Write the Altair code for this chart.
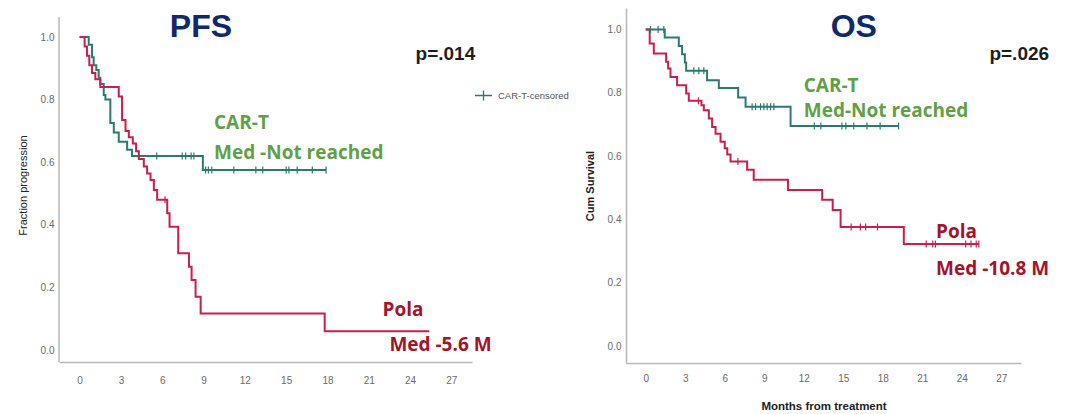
import altair as alt
import pandas as pd

TEAL = "#2b7a6f"
RED = "#c81f4f"
GREEN_TXT = "#62a047"
RED_TXT = "#a3132c"
NAVY = "#10296a"

# ---------------- PFS (left) ----------------
pfs_cart_t = [0, 0.66, 0.9, 1.02, 1.21, 1.38, 1.5, 1.75, 1.87, 2.23, 2.48, 2.84, 3.45, 3.8, 8.95, 17.9]
pfs_cart_s = [1.0, 0.975, 0.935, 0.91, 0.895, 0.87, 0.85, 0.815, 0.80, 0.725, 0.695, 0.665, 0.64, 0.62, 0.575, 0.575]
pfs_pola_t = [0, 0.36, 0.53, 0.7, 0.9, 1.14, 1.5, 2.84, 3.08, 3.33, 3.57, 3.86, 4.1, 4.3, 4.66, 4.9,
              5.15, 5.39, 5.63, 6.36, 6.53, 7.16, 7.94, 8.13, 8.42, 8.79, 17.8, 25.4]
pfs_pola_s = [1.0, 0.97, 0.94, 0.91, 0.885, 0.865, 0.84, 0.81, 0.735, 0.70, 0.68, 0.66, 0.635, 0.61, 0.586, 0.564,
              0.543, 0.511, 0.48, 0.437, 0.394, 0.309, 0.266, 0.224, 0.17, 0.117, 0.06, 0.06]
pfs_cart_cens_t = [5.6, 7.45, 7.7, 8.1, 8.3, 9.15, 9.35, 9.6, 11.2, 12.8, 13.3, 15.0, 15.2, 15.8, 16.9, 17.9]
pfs_cart_cens_s = [0.62, 0.62, 0.62, 0.62, 0.62, 0.575, 0.575, 0.575, 0.575, 0.575, 0.575, 0.575, 0.575, 0.575, 0.575, 0.575]
pfs_pola_cens_t = [6.2]
pfs_pola_cens_s = [0.48]

# ---------------- OS (right) ----------------
os_cart_t = [0, 1.44, 2.51, 2.76, 2.97, 3.07, 4.66, 5.55, 7.02, 7.58, 11.0, 19.2]
os_cart_s = [1.0, 0.975, 0.948, 0.922, 0.896, 0.87, 0.84, 0.815, 0.785, 0.756, 0.695, 0.695]
os_pola_t = [0, 0.3, 0.61, 1.55, 1.7, 1.88, 2.38, 3.07, 3.27, 4.23, 4.41, 4.79, 5.04, 5.3, 5.68, 6.0,
             6.19, 6.44, 7.7, 8.2, 10.8, 13.4, 14.2, 14.8, 19.6, 25.3]
os_pola_s = [1.0, 0.956, 0.924, 0.898, 0.877, 0.85, 0.824, 0.798, 0.775, 0.761, 0.745, 0.719, 0.692, 0.671, 0.645, 0.625,
             0.605, 0.583, 0.557, 0.525, 0.493, 0.462, 0.43, 0.376, 0.322, 0.322]
os_cart_cens_t = [0.36, 0.94, 1.37, 3.65, 4.03, 4.41, 8.08, 8.34, 8.72, 8.97, 9.22, 9.48, 9.73,
                  12.8, 13.3, 14.9, 15.2, 15.8, 16.8, 17.8, 19.2]
os_cart_cens_s = [1.0, 1.0, 1.0, 0.87, 0.87, 0.87, 0.756, 0.756, 0.756, 0.756, 0.756, 0.756, 0.756,
                  0.695, 0.695, 0.695, 0.695, 0.695, 0.695, 0.695, 0.695]
os_pola_cens_t = [4.0, 7.0, 15.6, 16.3, 16.7, 17.6, 21.3, 21.8, 22.0, 24.3, 24.7, 25.1, 25.3]
os_pola_cens_s = [0.775, 0.583, 0.376, 0.376, 0.376, 0.376, 0.322, 0.322, 0.322, 0.322, 0.322, 0.322, 0.322]

# ---------------- annotations ----------------
title_label = ["PFS", "OS"]
title_t = [8.81, 15.8]
title_s = [1.0, 0.976]

pfs_txt_label = ["CAR-T", "Med -Not reached", "Pola", "Med -5.6 M"]
pfs_txt_t = [9.76, 9.76, 22.0, 22.5]
pfs_txt_s = [0.706, 0.610, 0.1086, -0.003]
pfs_txt_col = [GREEN_TXT, GREEN_TXT, RED_TXT, RED_TXT]

os_txt_label = ["CAR-T", "Med-Not reached", "Pola", "Med -10.8 M"]
os_txt_t = [12.0, 12.0, 22.05, 22.05]
os_txt_s = [0.8025, 0.7235, 0.341, 0.224]
os_txt_col = [GREEN_TXT, GREEN_TXT, RED_TXT, RED_TXT]

pval_label = ["p=.014", "p=.026"]
pval_t = [24.4, 26.1]
pval_s = [0.9265, 0.904]

legend_label = "CAR-T-censored"

x_ticks = [0, 3, 6, 9, 12, 15, 18, 21, 24, 27]
y_ticks = [0.0, 0.2, 0.4, 0.6, 0.8, 1.0]
X_DOMAIN = [-1.5, 28.5]
PFS_Y_DOMAIN = [-0.0383, 1.0927]
OS_Y_DOMAIN = [-0.0537, 1.068]


def xaxis(title, pad):
    kw = dict(values=x_ticks, grid=False, ticks=False, labelPadding=pad,
              labelFont="Liberation Sans", labelFontSize=10, labelColor="#6a6a6a",
              domainColor="#b8b8b8", domainWidth=1.5, labelFlush=False)
    if title:
        kw.update(title=title, titleFont="Liberation Sans", titleFontSize=11.5,
                  titleFontWeight="bold", titleColor="#222", titlePadding=17)
    else:
        kw.update(title=None)
    return alt.Axis(**kw)


def yaxis(title, bold, domain):
    return alt.Axis(values=y_ticks, format=".1f", grid=False, ticks=False, labelPadding=5,
                    labelFont="Liberation Sans", labelFontSize=10, labelColor="#6a6a6a",
                    domain=domain, domainColor="#b8b8b8", domainWidth=1.5,
                    title=title, titleFont="Liberation Sans", titleFontSize=11,
                    titleFontWeight="bold" if bold else "normal", titleColor="#222",
                    titlePadding=12)


def enc_xy(xax, yax, ydom, field_y="s"):
    return dict(
        x=alt.X("t:Q", scale=alt.Scale(domain=X_DOMAIN, nice=False, zero=False), axis=xax),
        y=alt.Y(f"{field_y}:Q", scale=alt.Scale(domain=ydom, nice=False, zero=False), axis=yax),
    )


def curve(t, s, color, xax, yax, ydom):
    df = pd.DataFrame({"t": t, "s": s})
    return alt.Chart(df).mark_line(interpolate="step-after", strokeWidth=2, color=color).encode(
        **enc_xy(xax, yax, ydom))


def censor(t, s, color, xax, yax, ydom, legend=False):
    df = pd.DataFrame({"t": t, "s": s, "g": [legend_label] * len(t)})
    m = alt.Chart(df).mark_point(shape="M0,-1L0,1", size=49, filled=False, strokeWidth=1.2, opacity=1)
    if legend:
        col = alt.Color("g:N", scale=alt.Scale(domain=[legend_label], range=[TEAL]),
                        legend=alt.Legend(orient="none", legendX=415, legendY=78, title=None,
                                          symbolType="M-1,0L1,0M0,-0.6L0,0.6", symbolSize=289,
                                          symbolStrokeWidth=1.3, labelFont="Liberation Sans",
                                          labelFontSize=9.5, labelColor="#555", labelOffset=5,
                                          padding=0))
    else:
        col = alt.value(color)
    return m.encode(color=col, **enc_xy(xax, yax, ydom))


def texts(labels, t, s, cols, xax, yax, ydom):
    df = pd.DataFrame({"t": t, "s": s, "label": labels, "col": cols})
    return alt.Chart(df).mark_text(align="left", baseline="alphabetic", font="Open Sans",
                                   fontWeight="bold", fontSize=19).encode(
        text="label:N", color=alt.Color("col:N", scale=None),
        **enc_xy(xax, yax, ydom))


def title_text(i, xax, yax, ydom):
    df = pd.DataFrame({"t": [title_t[i]], "s": [title_s[i]], "label": [title_label[i]]})
    return alt.Chart(df).mark_text(align="center", baseline="alphabetic", font="Liberation Sans",
                                   fontWeight="bold", fontSize=32, color=NAVY).encode(
        text="label:N", **enc_xy(xax, yax, ydom))


def pval(i, xax, yax, ydom):
    df = pd.DataFrame({"t": [pval_t[i]], "s": [pval_s[i]], "label": [pval_label[i]]})
    return alt.Chart(df).mark_text(align="left", baseline="alphabetic", font="Liberation Sans",
                                   fontWeight="bold", fontSize=19, color="#1e1e1e").encode(
        text="label:N", **enc_xy(xax, yax, ydom))


# ---------------- left panel ----------------
lx = xaxis(None, 13)
ly = yaxis("Fraction progression", False, False)
axis_line_df = pd.DataFrame({"t": [X_DOMAIN[0]], "s": [PFS_Y_DOMAIN[0]], "s2": [1.064]})
left_axis_rule = alt.Chart(axis_line_df).mark_rule(color="#b8b8b8", strokeWidth=1.5).encode(
    y2="s2:Q", **enc_xy(lx, ly, PFS_Y_DOMAIN))

left = alt.layer(
    left_axis_rule,
    curve(pfs_cart_t, pfs_cart_s, TEAL, lx, ly, PFS_Y_DOMAIN),
    curve(pfs_pola_t, pfs_pola_s, RED, lx, ly, PFS_Y_DOMAIN),
    censor(pfs_cart_cens_t, pfs_cart_cens_s, TEAL, lx, ly, PFS_Y_DOMAIN, legend=True),
    censor(pfs_pola_cens_t, pfs_pola_cens_s, RED, lx, ly, PFS_Y_DOMAIN),
    title_text(0, lx, ly, PFS_Y_DOMAIN),
    texts(pfs_txt_label, pfs_txt_t, pfs_txt_s, pfs_txt_col, lx, ly, PFS_Y_DOMAIN),
    pval(0, lx, ly, PFS_Y_DOMAIN),
).properties(width=413, height=354)

# ---------------- right panel ----------------
rx = xaxis("Months from treatment", 10)
ry = yaxis("Cum Survival", True, True)
right = alt.layer(
    curve(os_cart_t, os_cart_s, TEAL, rx, ry, OS_Y_DOMAIN),
    curve(os_pola_t, os_pola_s, RED, rx, ry, OS_Y_DOMAIN),
    censor(os_cart_cens_t, os_cart_cens_s, TEAL, rx, ry, OS_Y_DOMAIN),
    censor(os_pola_cens_t, os_pola_cens_s, RED, rx, ry, OS_Y_DOMAIN),
    title_text(1, rx, ry, OS_Y_DOMAIN),
    texts(os_txt_label, os_txt_t, os_txt_s, os_txt_col, rx, ry, OS_Y_DOMAIN),
    pval(1, rx, ry, OS_Y_DOMAIN),
).properties(width=395, height=355)

chart = alt.hconcat(left, right, spacing=154, bounds="flush").resolve_scale(
    color="independent"
).properties(
    padding={"left": 9, "top": 0, "right": 0, "bottom": 0},
    background="white",
).configure_view(stroke=None)

chart.save("out.html", embed_options={"renderer": "svg", "actions": False})
